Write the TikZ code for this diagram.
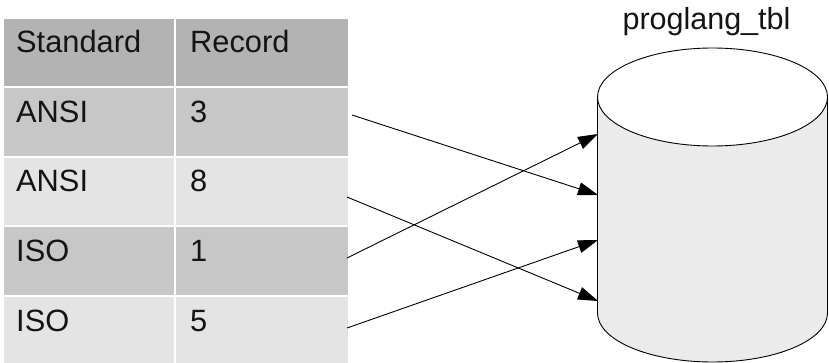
\documentclass[tikz,border=0pt]{standalone}
\usepackage{fontspec}
\setmainfont{Liberation Sans}
\usetikzlibrary{arrows.meta}
\definecolor{hdr}{HTML}{B3B3B3}
\definecolor{rowdark}{HTML}{C7C7C7}
\definecolor{rowlight}{HTML}{E4E4E4}
\definecolor{cylfill}{HTML}{EBEBEB}
\definecolor{txt}{HTML}{141414}
\begin{document}
\begin{tikzpicture}[x=1pt,y=-1pt,
  cell/.style={anchor=north west,inner sep=0pt,outer sep=0pt,minimum height=67.5pt},
  c1/.style={cell,minimum width=170pt},
  c2/.style={cell,minimum width=172pt},
  lbl/.style={anchor=base west,inner sep=0pt,text=txt,font=\fontsize{30.8}{36}\selectfont},
  conn/.style={line width=0.9pt,-{Triangle[length=20pt,width=13pt]}}]
\useasboundingbox (0,0) rectangle (829,363);
% table cells
\node[c1,fill=hdr] (h1) at (4,19) {};
\node[c2,fill=hdr] (h2) at (176,19) {};
\node[c1,fill=rowdark] (a1) at (4,88.5) {};
\node[c2,fill=rowdark] (b1) at (176,88.5) {};
\node[c1,fill=rowlight] (a2) at (4,158) {};
\node[c2,fill=rowlight] (b2) at (176,158) {};
\node[c1,fill=rowdark] (a3) at (4,227.5) {};
\node[c2,fill=rowdark] (b3) at (176,227.5) {};
\node[c1,fill=rowlight,minimum height=70pt] (a4) at (4,297) {};
\node[c2,fill=rowlight,minimum height=70pt] (b4) at (176,297) {};
% texts
\node[lbl] (th1) at ([shift={(12,34)}]h1.north west) {Standard};
\node[lbl] (th2) at ([shift={(14,34)}]h2.north west) {Record};
\node[lbl] (ta1) at ([shift={(12,34)}]a1.north west) {ANSI};
\node[lbl] (tb1) at ([shift={(14,34)}]b1.north west) {3};
\node[lbl] (ta2) at ([shift={(12,34)}]a2.north west) {ANSI};
\node[lbl] (tb2) at ([shift={(14,34)}]b2.north west) {8};
\node[lbl] (ta3) at ([shift={(12,34)}]a3.north west) {ISO};
\node[lbl] (tb3) at ([shift={(14,34)}]b3.north west) {1};
\node[lbl] (ta4) at ([shift={(12,34)}]a4.north west) {ISO};
\node[lbl] (tb4) at ([shift={(14,34)}]b4.north west) {5};
% cylinder
\fill[cylfill] (597.5,97) -- (597.5,313) arc[start angle=180,end angle=0,x radius=115,y radius=49] -- (827.5,97) arc[start angle=0,end angle=180,x radius=115,y radius=49] -- cycle;
\draw[line width=0.9pt] (597.5,97) -- (597.5,313) arc[start angle=180,end angle=0,x radius=115,y radius=49] -- (827.5,97);
\draw[line width=0.9pt] (712.5,97) ellipse[x radius=115,y radius=49];
\node[inner sep=0pt,anchor=base,text=txt,font=\fontsize{30.5}{36}\selectfont] (cyllbl) at (706.5,30) {proglang\_tbl};
% connector anchors
\coordinate (s1) at (352,115);
\coordinate (s2) at (347,197);
\coordinate (s3) at (347,258);
\coordinate (s4) at (347,328);
\coordinate (t1) at (598,195);
\coordinate (t2) at (598,301);
\coordinate (t3) at (598,134);
\coordinate (t4) at (598,240);
\draw[conn] (s1) -- (t1);
\draw[conn] (s2) -- (t2);
\draw[conn] (s3) -- (t3);
\draw[conn] (s4) -- (t4);
\end{tikzpicture}
\end{document}
